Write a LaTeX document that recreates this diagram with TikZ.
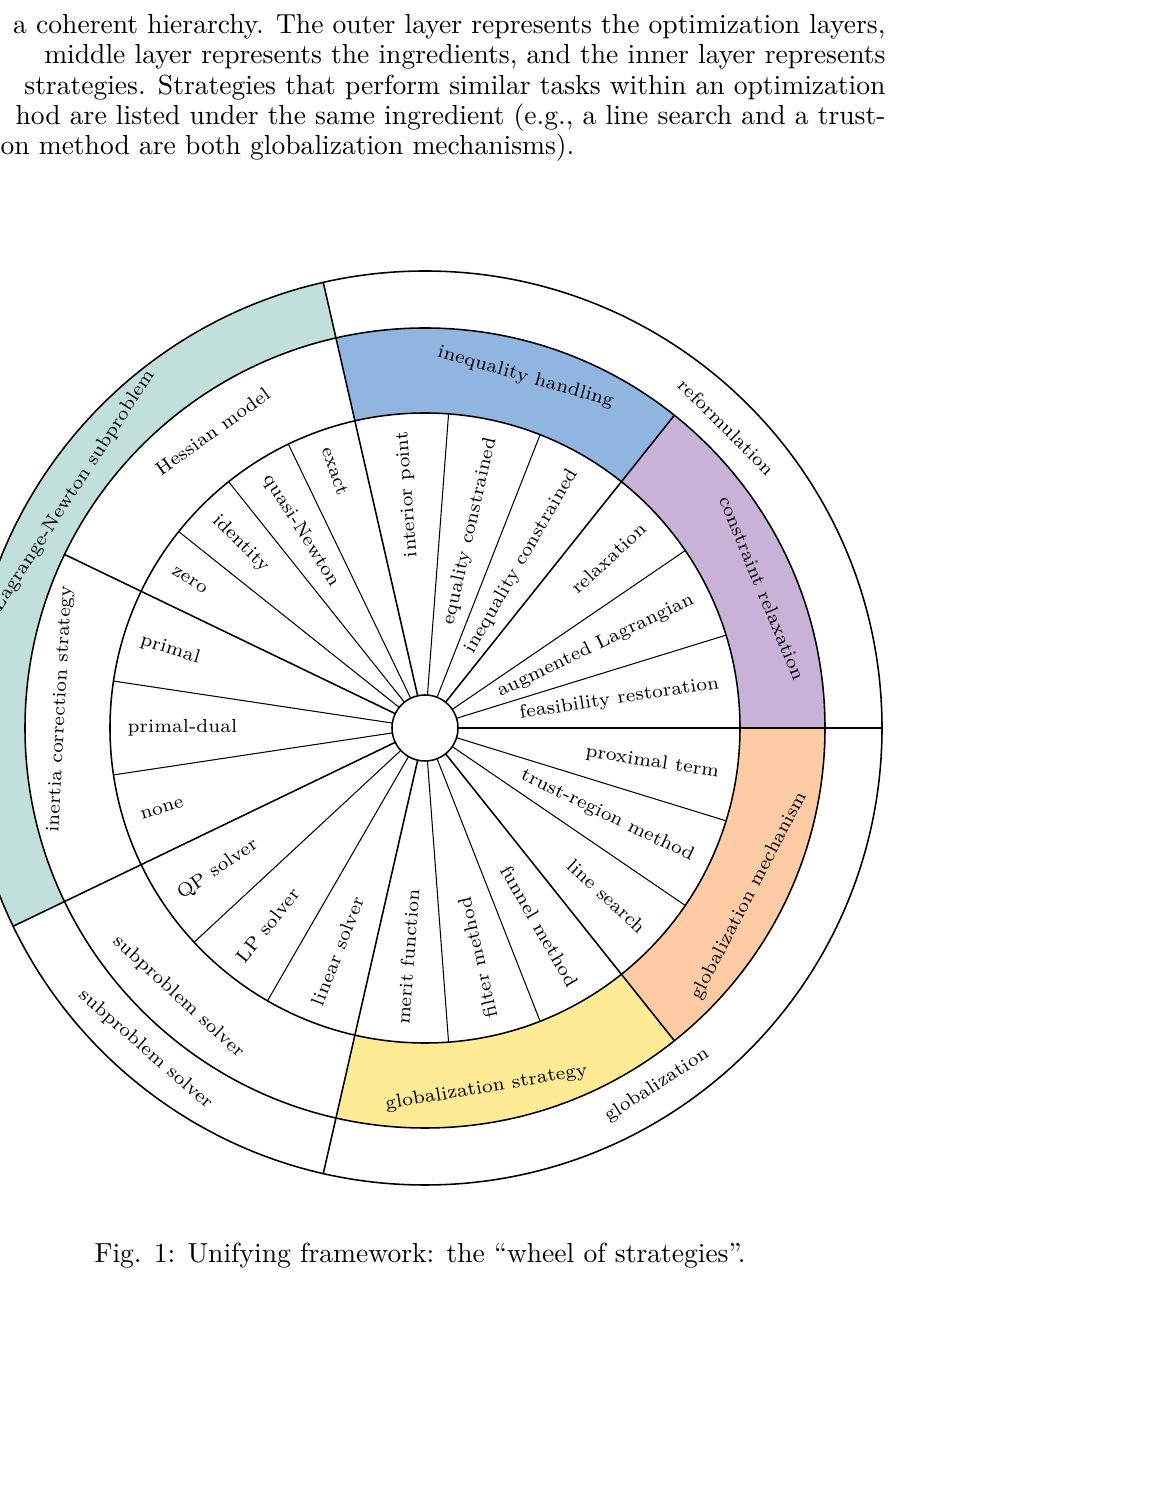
\documentclass[tikz,border=0pt]{standalone}
\usepackage{tikz}
\definecolor{lnteal}{HTML}{C2E0DB}
\definecolor{ineqblue}{HTML}{8FB5E0}
\definecolor{relaxpurple}{HTML}{C9B2D7}
\definecolor{mechorange}{HTML}{FFCBA5}
\definecolor{stratyellow}{HTML}{FFEA95}
\newcommand{\sector}[5]{\fill[#1] (#2:#4) arc[start angle=#2,end angle=#3,radius=#4] -- (#3:#5) arc[start angle=#3,end angle=#2,radius=#5] -- cycle;}
\newcommand{\wheelfont}{\fontsize{7.3}{8.5}\selectfont}
\newcommand{\bodyfont}{\fontsize{10.6}{12.7}\selectfont}

\begin{document}
\begin{tikzpicture}[x=0.3846pt,y=0.3846pt,
  every node/.style={inner sep=2pt},
  strat/.style={font=\wheelfont},
  ingr/.style={font=\wheelfont},
  layer/.style={font=\wheelfont},
  bodyline/.style={anchor=base east,inner sep=0pt,font=\bodyfont}]
  \useasboundingbox (0,0) rectangle (1157,1496);
  % text above the figure
  \node[bodyline] (l1) at (886,1462) {a coherent hierarchy. The outer layer represents the optimization layers,};
  \node[bodyline] (l2) at (886,1432) {middle layer represents the ingredients, and the inner layer represents};
  \node[bodyline] (l3) at (886,1401) {strategies. Strategies that perform similar tasks within an optimization};
  \node[bodyline] (l4) at (886,1371) {hod are listed under the same ingredient (e.g., a line search and a trust-};
  \node[bodyline,anchor=base west] (l5) at (0,1341) {on method are both globalization mechanisms).};
  \begin{scope}[shift={(425,768)}]
    % coloured bands
    \sector{lnteal}{102.86}{205.71}{400}{457}
    \sector{relaxpurple}{0}{51.43}{315}{400}
    \sector{ineqblue}{51.43}{102.86}{315}{400}
    \sector{stratyellow}{257.14}{308.57}{315}{400}
    \sector{mechorange}{308.57}{360}{315}{400}
    % rings
    \foreach \r in {33,315,400,457} \draw[line width=0.6pt] (0,0) circle[radius=\r];
    \foreach \a in {0,102.86,205.71,257.14} \draw[line width=0.6pt] (\a:33) -- (\a:457);
    \foreach \a in {51.43,154.29,308.57} \draw[line width=0.6pt] (\a:33) -- (\a:400);
    \foreach \a in {17.14,34.29,68.57,85.71,115.71,128.57,141.43,171.43,188.57,222.86,240,274.29,291.43,325.71,342.86}
      \draw[line width=0.4pt] (\a:33) -- (\a:315);
    % strategies
    \foreach \a/\t in {8.57/feasibility restoration,25.71/augmented Lagrangian,42.86/relaxation,60/inequality constrained,77.14/equality constrained,94.29/interior point,300/funnel method,317.14/line search,334.29/trust-region method,351.43/proximal term}
      \node[strat,anchor=east,rotate=\a] at (\a:303) {\t};
    \foreach \a/\t in {109.29/exact,122.14/quasi-Newton,135/identity,147.86/zero,162.86/primal,180/primal-dual,197.14/none,214.29/QP solver,231.43/LP solver,248.57/linear solver,265.71/merit function,282.86/filter method}
      \node[strat,anchor=west,rotate=\a+180] at (\a:303) {\t};
    % ingredients
    \foreach \a/\t in {22.5/constraint relaxation,74/inequality handling,125.6/Hessian model,177/inertia correction strategy}
      \node[ingr,rotate=\a-90] at (\a:365) {\t};
    \foreach \a/\t in {227.5/subproblem solver,279.7/globalization strategy,332.6/globalization mechanism}
      \node[ingr,rotate=\a+90] at (\a:365) {\t};
    % optimization layers
    \node[layer,rotate=-45] (reform) at (45:426) {reformulation};
    \node[layer,rotate=57] (lnsub) at (146:424) {Lagrange-Newton subproblem};
    \node[layer,rotate=-41] (subsolve) at (229:426) {subproblem solver};
    \node[layer,rotate=33] (glob) at (303:426) {globalization};
  \end{scope}
  \node[font=\bodyfont] (cap) at (420,240) {Fig. 1: Unifying framework: the ``wheel of strategies''.};
\end{tikzpicture}
\end{document}
